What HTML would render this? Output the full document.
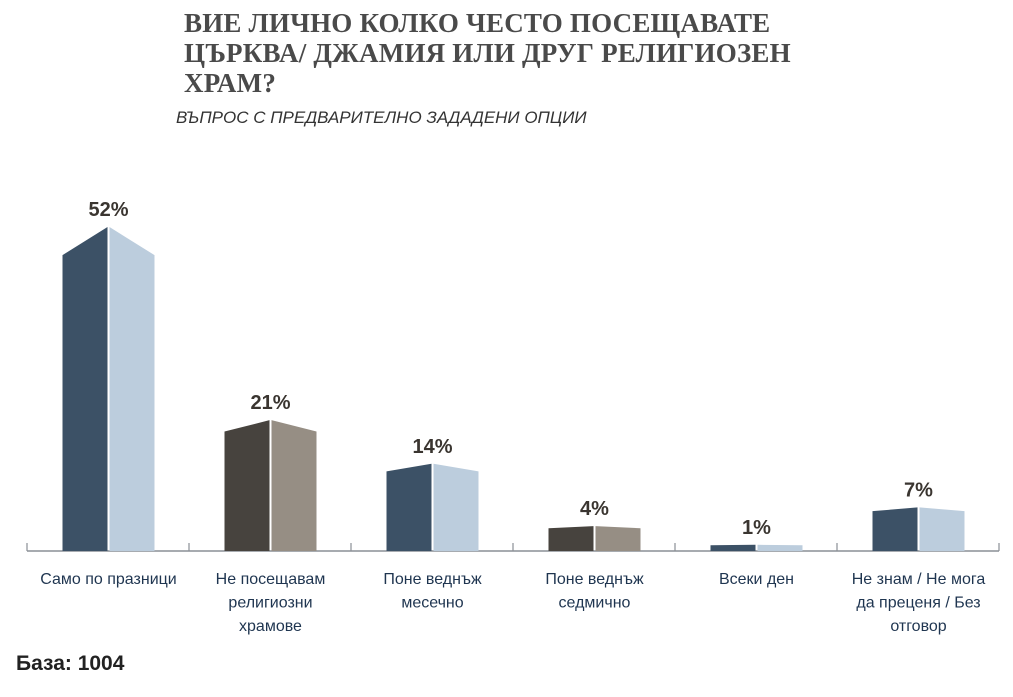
<!DOCTYPE html>
<html><head><meta charset="utf-8"><style>
body{margin:0;background:#fff;width:1013px;height:697px;overflow:hidden;position:relative;font-family:"Liberation Sans",sans-serif}
.t{position:absolute;left:184px;top:8px;font-family:"Liberation Serif",serif;font-weight:bold;font-size:27px;line-height:30px;color:#4a4a4a;letter-spacing:0.2px}
.s{position:absolute;left:176px;top:108px;font-style:italic;font-size:17px;color:#333}
.b{position:absolute;left:16px;top:652px;font-weight:bold;font-size:21px;color:#222}
</style></head><body>
<div class="t">ВИЕ ЛИЧНО КОЛКО ЧЕСТО ПОСЕЩАВАТЕ<br>ЦЪРКВА/ ДЖАМИЯ ИЛИ ДРУГ РЕЛИГИОЗЕН<br>ХРАМ?</div>
<div class="s">ВЪПРОС С ПРЕДВАРИТЕЛНО ЗАДАДЕНИ ОПЦИИ</div>
<div class="b">База: 1004</div>
<svg id="c" width="1013" height="697" style="position:absolute;left:0;top:0"></svg>
<script>
const categories=[["Само по празници"],["Не посещавам","религиозни","храмове"],["Поне веднъж","месечно"],["Поне веднъж","седмично"],["Всеки ден"],["Не знам / Не мога","да преценя / Без","отговор"]];
const values=[52,21,14,4,1,7];
const labels=["52%","21%","14%","4%","1%","7%"];
const dark=["#3c5166","#47433e","#3c5166","#47433e","#3c5166","#3c5166"];
const light=["#bccddd","#968e84","#bccddd","#968e84","#bccddd","#bccddd"];
const svg=document.getElementById('c'),NS="http://www.w3.org/2000/svg";
const base=551,x0=27,step=162;
const y=v=>v*5.69;
const xc=i=>x0+step*i+81.5;
function mk(t,a){const e=document.createElementNS(NS,t);for(const k in a)e.setAttribute(k,a[k]);svg.appendChild(e);return e;}
let ax=mk('line',{x1:x0,x2:x0+step*6,y1:base,y2:base,stroke:'#8a8f95','stroke-width':1.5});


for(let i=0;i<=6;i++){let t=mk('line',{x1:x0+step*i,x2:x0+step*i,y1:base-8,y2:base,stroke:'#8a8f95','stroke-width':1.2});

}
values.forEach((v,i)=>{
 const c=xc(i),h=y(v),r=h*0.095,sh=base-h,pk=sh-r;
 let l=mk('polygon',{points:`${c-46},${base} ${c-46},${sh} ${c-1},${pk} ${c-1},${base}`,fill:dark[i]});
 
 
 let rr=mk('polygon',{points:`${c+1},${base} ${c+1},${pk} ${c+46},${sh} ${c+46},${base}`,fill:light[i]});
 
 
 let t=mk('text',{x:c,y:pk-11,'text-anchor':'middle','font-size':20,'font-weight':'bold',fill:'#3a3530','font-family':'Liberation Sans,sans-serif'});
 t.textContent=labels[i];
 
 
 categories[i].forEach((s,j)=>{let ct=mk('text',{x:c,y:584+j*23.5,'text-anchor':'middle','font-size':16,fill:'#1f3550','font-family':'Liberation Sans,sans-serif'});
  ct.textContent=s;
  
  });
});
</script>
</body></html>
